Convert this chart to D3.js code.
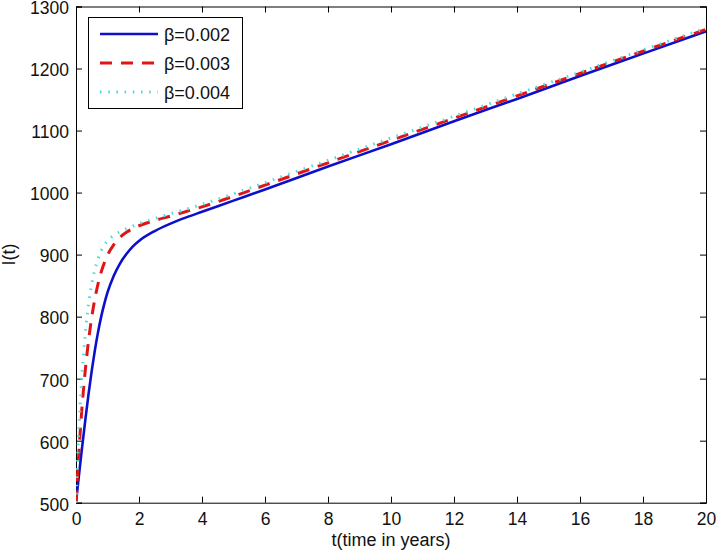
<!DOCTYPE html>
<html><head><meta charset="utf-8">
<script src="https://cdn.jsdelivr.net/npm/d3@7"></script>
<style>body{margin:0;background:#fff}svg{display:block}text{font-family:"Liberation Sans",Arial,sans-serif}</style>
</head><body>
<svg id="c" width="716" height="554"></svg>
<script>
const times = [0,0.05,0.1,0.15,0.2,0.3,0.4,0.5,0.6,0.7,0.8,0.9,1.0,1.2,1.4,1.6,1.8,2.0,2.5,3.0,3.5,4,5,6,8,10,12,14,16,18,20];
const beta002 = [500,524,547,570,592,635,676,713,746,775,800,821,839,866,886,901,913,922,938,950,960,969,987,1005,1042,1078,1115,1151,1188,1224,1260];
const beta003 = [500,546,588,626,660,716,762,799,829,853,872,887,899,916,928,936,942,946.5,955,962,969.5,977,994,1012,1048,1084,1120,1156,1192,1228,1263];
const beta004 = [500,568,626,674,714,776,821,853,876,893,906,915,922,931,937,942,946,950,958,966,973,981,998,1016,1052,1088,1123,1159,1194,1230,1265];
const seriesNames = ["β=0.002","β=0.003","β=0.004"];
const xTicks = [0,2,4,6,8,10,12,14,16,18,20];
const yTicks = [500,600,700,800,900,1000,1100,1200,1300];

const styles = [
  {color:"#0c10cc", width:2.6, dash:null},
  {color:"#e01515", width:3, dash:"12,9"},
  {color:"#4fdcdc", width:3, dash:"1.6,6.6"}
];
const svg = d3.select("#c");
const L=76, R=706, T=6.5, B=502.7;
const x = d3.scaleLinear().domain([0,20]).range([L,R]);
const y = d3.scaleLinear().domain([500,1300]).range([B,T]);

const fs = 17.5;
const gx = svg.append("g").attr("transform",`translate(0,${B})`)
  .call(d3.axisBottom(x).tickValues(xTicks).tickSize(-6).tickPadding(10).tickFormat(d3.format("d")));
const gxt = svg.append("g").attr("transform",`translate(0,${T})`)
  .call(d3.axisTop(x).tickValues(xTicks).tickSize(-6).tickFormat(""));
const gy = svg.append("g").attr("transform",`translate(${L},0)`)
  .call(d3.axisLeft(y).tickValues(yTicks).tickSize(-6).tickPadding(7).tickFormat(d3.format("d")));
const gyr = svg.append("g").attr("transform",`translate(${R},0)`)
  .call(d3.axisRight(y).tickValues(yTicks).tickSize(-6).tickFormat(""));
[gx,gxt,gy,gyr].forEach(g=>{
  g.select(".domain").attr("stroke","#000").attr("stroke-width",1);
  g.selectAll(".tick line").attr("stroke","#000");
  g.selectAll("text").attr("font-size",fs).attr("fill","#111").attr("font-family","Liberation Sans, Arial, sans-serif");
});
gy.selectAll("text").attr("dy","0.42em");

const data = [beta002,beta003,beta004];
const line = d3.line().x((d,i)=>x(times[i])).y(d=>y(d)).curve(d3.curveMonotoneX);
svg.append("clipPath").attr("id","clp").append("rect").attr("x",L).attr("y",T).attr("width",R-L).attr("height",B-T+2);
data.forEach((s,k)=>{
  svg.append("path").datum(s).attr("d",line).attr("fill","none")
    .attr("stroke",styles[k].color).attr("stroke-width",styles[k].width)
    .attr("stroke-dasharray",styles[k].dash)
    .attr("clip-path","url(#clp)");
});

const lg = svg.append("g");
lg.append("rect").attr("x",88.5).attr("y",17.5).attr("width",154).attr("height",91).attr("fill","#fff").attr("stroke","#000").attr("stroke-width",1);
const ly = [34,63,92];
seriesNames.forEach((n,k)=>{
  lg.append("line").attr("x1",100).attr("x2",158).attr("y1",ly[k]).attr("y2",ly[k])
    .attr("stroke",styles[k].color).attr("stroke-width",styles[k].width).attr("stroke-dasharray",styles[k].dash);
  lg.append("text").attr("x",164).attr("y",ly[k]+6.5).attr("font-size",18).attr("fill","#111").text(n);
});

svg.append("text").attr("x",(L+R)/2).attr("y",546).attr("text-anchor","middle").attr("font-size",18).attr("fill","#111").text("t(time in years)");
svg.append("text").attr("transform",`translate(15,${(T+B)/2}) rotate(-90)`).attr("text-anchor","middle").attr("font-size",18).attr("fill","#111").text("I(t)");
</script>
</body></html>
